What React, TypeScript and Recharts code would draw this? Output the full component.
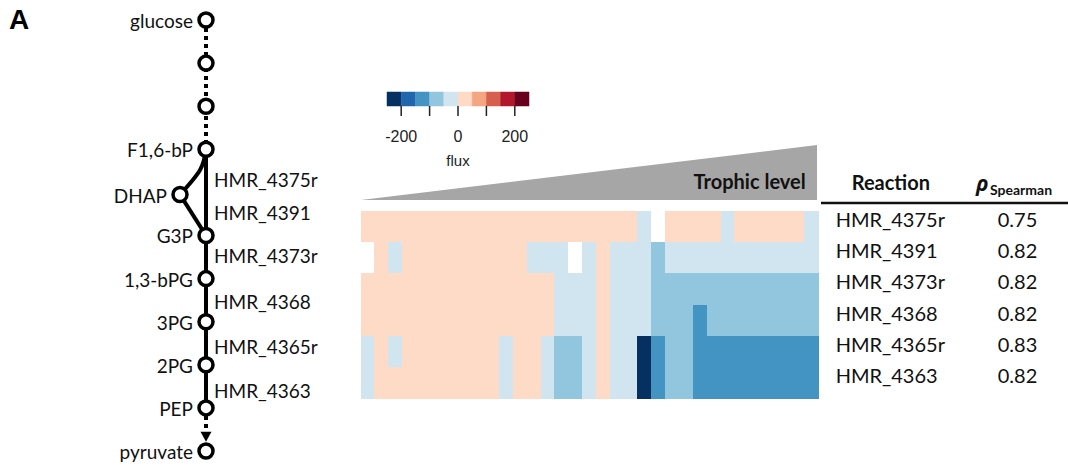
import {
  ScatterChart,
  Scatter,
  XAxis,
  YAxis,
  BarChart,
  Bar,
  Cell,
  ComposedChart,
  ReferenceArea,
  Label,
  AreaChart,
  Area,
} from 'recharts'

const FONT = 'Lato, "Open Sans", sans-serif'
const RFONT = '"Liberation Sans", Arial, sans-serif'

// reactions shown in the heatmap / table
const reactions = ['HMR_4375r', 'HMR_4391', 'HMR_4373r', 'HMR_4368', 'HMR_4365r', 'HMR_4363']
const spearman = ['0.75', '0.82', '0.82', '0.82', '0.83', '0.82']

// flux per sample, samples sorted by trophic level (null = NA)
const flux4375r = [
  25, 25, 25, 25, 25, 25, 25, 25, 25, 25,
  25, 25, 25, 25, 25, 25, 25, 25, 25, 25,
  -25, null, 25, 25, 25, 25, -25, 25, 25, 25,
  25, 25, -25,
]
const flux4391 = [
  null, 25, -25, 25, 25, 25, 25, 25, 25, 25,
  25, 25, -25, -25, -25, null, -25, 25, -25, -25,
  -25, -75, -25, -25, -25, -25, -25, -25, -25, -25,
  -25, -25, -25,
]
const flux4373r = [
  25, 25, 25, 25, 25, 25, 25, 25, 25, 25,
  25, 25, 25, 25, -25, -25, -25, 25, -25, -25,
  -25, -75, -75, -75, -75, -75, -75, -75, -75, -75,
  -75, -75, -75,
]
const flux4368 = [
  25, 25, 25, 25, 25, 25, 25, 25, 25, 25,
  25, 25, 25, 25, -25, -25, -25, 25, -25, -25,
  -25, -75, -75, -75, -125, -75, -75, -75, -75, -75,
  -75, -75, -75,
]
const flux4365r = [
  -25, 25, -25, 25, 25, 25, 25, 25, 25, 25,
  -25, 25, 25, -25, -75, -75, -25, 25, -25, -25,
  -225, -125, -75, -75, -125, -125, -125, -125, -125, -125,
  -125, -125, -125,
]
const flux4363 = [
  -25, 25, 25, 25, 25, 25, 25, 25, 25, 25,
  -25, 25, 25, -25, -75, -75, -25, 25, -25, -25,
  -225, -125, -75, -75, -125, -125, -125, -125, -125, -125,
  -125, -125, -125,
]
const fluxRows = [flux4375r, flux4391, flux4373r, flux4368, flux4365r, flux4363]

// RdBu colour bar
const fluxBreaks = [-250, -200, -150, -100, -50, 0, 50, 100, 150, 200, 250]
const fluxColors = [
  '#053061', '#2166ac', '#4393c3', '#92c5de', '#d1e5f0',
  '#fddbc7', '#f4a582', '#d6604d', '#b2182b', '#67001f',
]
const fluxTicks = [-200, -100, 0, 100, 200]

// glycolysis pathway, top to bottom
const nodeNames = ['glucose', '', '', 'F1,6-bP', 'DHAP', 'G3P', '1,3-bPG', '3PG', '2PG', 'PEP', 'pyruvate']
const nodeCol = [0, 0, 0, 0, -1, 0, 0, 0, 0, 0, 0]
const nodeRow = [0, 1, 2, 3, 4.05, 5, 6, 7, 8, 9, 10]
const stepRow = [3.71, 4.49, 5.48, 6.54, 7.58, 8.6]

const fluxColor = (v: number | null) => {
  if (v === null) return '#ffffff'
  const i = Math.min(9, Math.max(0, Math.floor((v + 250) / 50)))
  return fluxColors[i]
}

const node = (i: number) => ({ x: nodeCol[i], y: nodeRow[i], name: nodeNames[i] })
const nodes = nodeNames.map((_, i) => node(i))
const dottedTop = [0, 1, 2, 3].map(node)
const mainChain = [3, 5, 6, 7, 8, 9].map(node)
const dhapCurve = [node(3), { x: -0.23, y: 3.48 }, node(4)]
const dhapToG3p = [4, 5].map(node)
const tail = [node(9), { x: 0, y: 9.58 }]
const arrowHead = [{ x: 0, y: 9.67 }]
const steps = reactions.map((name, i) => ({ x: 0, y: stepRow[i], name }))

const heatRows = reactions.map((reaction, r) => {
  const row: Record<string, any> = { reaction }
  fluxRows[r].forEach((_, c) => {
    row[`s${c}`] = 1
  })
  return row
})
const sampleIdx = flux4375r.map((_, c) => c)
const legendData = fluxBreaks.map((flux) => ({ flux, band: 1 }))
const trophic = [
  { level: 0, h: 0 },
  { level: 1, h: 1 },
]

const empty = () => <g />

const NodeShape = (props: any) => {
  const { cx, cy, payload } = props
  return (
    <g>
      <circle cx={cx} cy={cy} r={7} fill="#fff" stroke="#000" strokeWidth={3.5} />
      {payload.name ? (
        <text x={cx - 13} y={cy} dy="0.42em" textAnchor="end" fontFamily={FONT} fontSize={19} fill="#111">
          {payload.name}
        </text>
      ) : null}
    </g>
  )
}

const StepShape = (props: any) => {
  const { cx, cy, payload } = props
  return (
    <text x={cx + 8} y={cy} dy="0.36em" fontFamily={FONT} fontSize={19} fill="#111">
      {payload.name}
    </text>
  )
}

const ArrowShape = (props: any) => {
  const { cx, cy } = props
  return <path d={`M${cx - 5.5},${cy - 5} L${cx + 5.5},${cy - 5} L${cx},${cy + 5} Z`} fill="#000" />
}

const TableTick = (props: any) => {
  const { x, y, payload, index } = props
  return (
    <g>
      <text x={x + 17.7} y={y} fontFamily={FONT} fontSize={20} fill="#111">
        {payload.value}
      </text>
      <text x={x + 199.5} y={y} textAnchor="middle" fontFamily={FONT} fontSize={20} fill="#111">
        {spearman[index]}
      </text>
    </g>
  )
}

export default function App() {
  const solid = { stroke: '#000', strokeWidth: 4 }
  const dotted = { stroke: '#000', strokeWidth: 4, strokeDasharray: '4 4' }
  return (
    <div style={{ position: 'absolute', left: 0, top: 0, width: 1068, height: 468, background: '#fff' }}>
      {/* pathway */}
      <div style={{ position: 'absolute', left: 0, top: 0 }}>
        <ScatterChart width={330} height={468} margin={{ top: 20, bottom: 17, left: 154, right: 72 }}>
          <XAxis type="number" dataKey="x" domain={[-2, 2]} hide />
          <YAxis type="number" dataKey="y" domain={[0, 10]} reversed hide />
          <Scatter data={dottedTop} line={dotted} shape={empty} fill="none" isAnimationActive={false} />
          <Scatter data={mainChain} line={solid} shape={empty} fill="none" isAnimationActive={false} />
          <Scatter data={dhapCurve} line={solid} lineJointType="natural" shape={empty} fill="none" isAnimationActive={false} />
          <Scatter data={dhapToG3p} line={solid} shape={empty} fill="none" isAnimationActive={false} />
          <Scatter data={tail} line={dotted} shape={empty} fill="none" isAnimationActive={false} />
          <Scatter data={arrowHead} shape={ArrowShape} isAnimationActive={false} />
          <Scatter data={nodes} shape={NodeShape} isAnimationActive={false} />
          <Scatter data={steps} shape={StepShape} isAnimationActive={false} />
        </ScatterChart>
      </div>

      {/* colour bar */}
      <div style={{ position: 'absolute', left: 370, top: 80 }}>
        <ComposedChart width={180} height={100} data={legendData} margin={{ top: 12, right: 21, bottom: 0, left: 17 }}>
          <XAxis
            type="number"
            dataKey="flux"
            domain={[-250, 250]}
            ticks={fluxTicks}
            height={74}
            axisLine={false}
            tickSize={10}
            tickMargin={15}
            tickLine={{ stroke: '#222', strokeWidth: 1.5 }}
            tickFormatter={(v: number) => (v % 200 === 0 ? String(v) : '')}
            tick={{ fontSize: 16, fontFamily: RFONT, fill: '#222' }}
          >
            <Label value="flux" position="insideBottom" offset={14} fontSize={15} fontFamily={RFONT} fill="#222" />
          </XAxis>
          <YAxis type="number" dataKey="band" domain={[0, 1]} hide />
          {fluxColors.map((c, i) => (
            <ReferenceArea
              key={c}
              x1={fluxBreaks[i]}
              x2={fluxBreaks[i + 1]}
              fill={c}
              fillOpacity={1}
              stroke={c}
              strokeWidth={0.5}
              ifOverflow="visible"
            />
          ))}
        </ComposedChart>
      </div>

      {/* trophic level wedge */}
      <div style={{ position: 'absolute', left: 361, top: 145 }}>
        <AreaChart width={456} height={55} data={trophic} margin={{ top: 0, right: 0, bottom: 0, left: 0 }}>
          <XAxis type="number" dataKey="level" domain={[0, 1]} hide />
          <YAxis type="number" domain={[0, 1]} hide />
          <Area type="linear" dataKey="h" fill="#a6a6a6" fillOpacity={1} stroke="none" isAnimationActive={false} />
        </AreaChart>
      </div>

      {/* heatmap + table */}
      <div style={{ position: 'absolute', left: 340, top: 190 }}>
        <BarChart
          width={728}
          height={230}
          data={heatRows}
          layout="vertical"
          barCategoryGap={0}
          barGap={0}
          margin={{ top: 21.7, right: 0, bottom: 21.7, left: 21 }}
        >
          <XAxis type="number" domain={[0, 33]} hide />
          <YAxis
            type="category"
            dataKey="reaction"
            orientation="right"
            width={250}
            axisLine={false}
            tickLine={false}
            tickSize={0}
            tickMargin={0}
            tick={TableTick}
          />
          {sampleIdx.map((c) => (
            <Bar key={c} dataKey={`s${c}`} stackId="heat" isAnimationActive={false}>
              {reactions.map((r, ri) => {
                const col = fluxColor(fluxRows[ri][c])
                return <Cell key={r} fill={col} stroke={col} strokeWidth={1} shapeRendering="crispEdges" />
              })}
            </Bar>
          ))}
        </BarChart>
      </div>

      {/* titles */}
      <svg width={1068} height={468} style={{ position: 'absolute', left: 0, top: 0, pointerEvents: 'none' }}>
        <text x={9} y={29} fontFamily={RFONT} fontWeight="bold" fontSize={28} fill="#000">
          A
        </text>
        <text x={805.7} y={189} textAnchor="end" fontFamily={FONT} fontWeight="bold" fontSize={20} fill="#111">
          Trophic level
        </text>
        <text x={851.7} y={190} fontFamily={FONT} fontWeight="bold" fontSize={20} fill="#111">
          Reaction
        </text>
        <text x={976} y={191} fontFamily='"Open Sans", "Noto Sans", sans-serif' fontWeight="bold" fontStyle="italic" fontSize={21} fill="#111">
          ρ
        </text>
        <text x={990} y={194.5} fontFamily={FONT} fontWeight="bold" fontSize={14} fill="#111">
          Spearman
        </text>
        <line x1={821} y1={203} x2={1068} y2={203} stroke="#111" strokeWidth={2.5} />
      </svg>
    </div>
  )
}
